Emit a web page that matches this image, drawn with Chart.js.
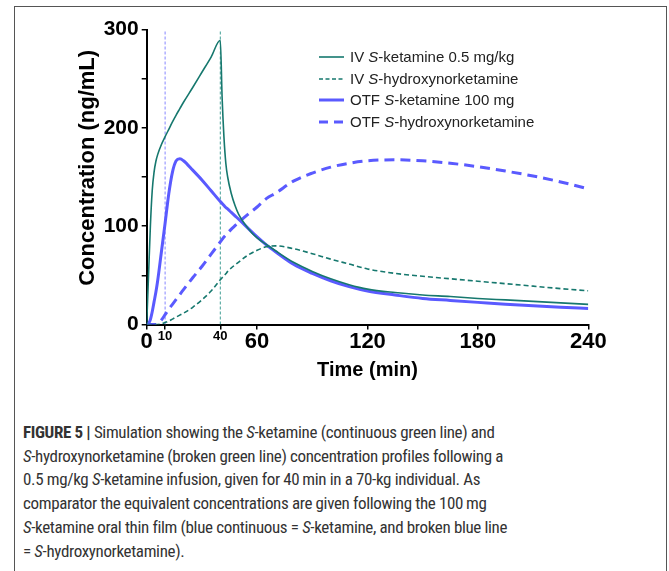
<!DOCTYPE html>
<html>
<head>
<meta charset="utf-8">
<script src="https://cdn.jsdelivr.net/npm/chart.js@4.4.1/dist/chart.umd.min.js"></script>
<style>
  body { margin: 0; background: #fff; }
  #page { position: relative; width: 669px; height: 571px; overflow: hidden; }
  #frame {
    position: absolute; left: 14px; top: 6px; width: 653px; height: 600px;
    border: 1px solid #555; box-sizing: border-box;
  }
  #chart { position: absolute; left: 0; top: 0; }
  #legend {
    position: absolute; left: 319px; top: 46px;
    font-family: "Liberation Sans", Arial, sans-serif; font-size: 15px; color: #222;
  }
  .row { height: 21.6px; line-height: 21.6px; white-space: nowrap; }
  .row svg { vertical-align: middle; margin-right: 6px; position: relative; top: -1px; }
  #caption {
    position: absolute; left: 23px; top: 421px;
    font-family: "Roboto Condensed", "DejaVu Sans Condensed", sans-serif;
    font-size: 17px; letter-spacing: -0.35px; line-height: 23.7px; color: #333; white-space: nowrap;
  }
</style>
</head>
<body>
<div id="page">
  <div id="frame"></div>
  <canvas id="chart" width="669" height="400"></canvas>
  <div id="legend"></div>
  <div id="caption"><b>FIGURE 5 |</b> Simulation showing the <i>S</i>-ketamine (continuous green line) and<br><i>S</i>-hydroxynorketamine (broken green line) concentration profiles following a<br>0.5 mg/kg <i>S</i>-ketamine infusion, given for 40&thinsp;min in a 70-kg individual. As<br>comparator the equivalent concentrations are given following the 100&thinsp;mg<br><i>S</i>-ketamine oral thin film (blue continuous = <i>S</i>-ketamine, and broken blue line<br>= <i>S</i>-hydroxynorketamine).</div>
</div>
<script>
// Time grid (min) and concentrations (ng/mL)
const times = [0, 1, 2, 3, 4, 5, 6, 8, 10, 12, 14, 16, 18, 20, 25, 30, 35, 40, 41, 42, 43, 44, 46, 48, 50, 55, 60, 65, 70, 80, 90, 100, 110, 120, 135, 150, 165, 180, 195, 210, 225, 240];
const ivKetamine = [0, 50, 100, 136, 155, 166, 173, 183, 191, 198.5, 206, 213, 219.5, 226, 241, 256.5, 272, 289, 230, 190, 164, 150, 133, 121, 112, 98, 88, 81.5, 75, 63, 54, 46.5, 40.5, 36, 32.5, 30, 28.5, 26.5, 25, 23.5, 22, 20.5];
const ivHnk = [0, 0, 0, 0, 0, 0, 0, 0.5, 2, 3.5, 5.5, 7.5, 9.5, 11.5, 17.5, 25, 34, 45.5, 47.5, 49.5, 51.5, 54, 57.5, 60.5, 63.5, 70.5, 75.5, 79, 80, 77, 72, 66.5, 61.5, 56.5, 52, 49, 46.5, 44, 41.5, 39, 36.5, 34.3];
const otfKetamine = [0, 1, 5, 13, 23, 33, 45, 74, 103, 133, 155, 166.5, 168.5, 166.5, 157, 147, 136, 125, 123, 121, 119, 117.5, 114, 110.5, 107, 98, 89, 81, 74, 61, 52, 44.5, 38.5, 34, 30, 26.5, 24.5, 22.5, 20.5, 19, 17.5, 16.3];
const otfHnk = [0, 0, 0, 0, 0, 0, 1, 4.5, 10, 15.5, 20.5, 25.5, 30.5, 35.5, 47.5, 59, 71.5, 84, 86.5, 89, 91, 93, 97, 100.5, 104, 112, 119.5, 128, 133.5, 146, 154, 160, 164, 166.5, 167.5, 166.5, 164, 160.5, 156, 151, 145, 138];

// dosing markers: end of OTF application (10 min) and end of infusion (40 min)
const markerTimes = [10, 40];
const xTicks = [0, 10, 40, 60, 120, 180, 240];
const smallTicks = [10, 40];
const yMax = 300;

const teal = '#16786e';
const blue = '#5a5aff';
const FONT = '"Liberation Sans", Arial, sans-serif';

function pts(values) {
    return times.map((t, i) => ({ x: t, y: values[i] }));
}
function vline(t) {
    return [{ x: t, y: 0 }, { x: t, y: yMax }];
}

const series = [
    { label: 'IV S-ketamine 0.5 mg/kg', data: pts(ivKetamine), color: teal, width: 1.6, dash: [] },
    { label: 'IV S-hydroxynorketamine', data: pts(ivHnk), color: teal, width: 1.6, dash: [5, 3] },
    { label: 'OTF S-ketamine 100 mg', data: pts(otfKetamine), color: blue, width: 3, dash: [] },
    { label: 'OTF S-hydroxynorketamine', data: pts(otfHnk), color: blue, width: 3, dash: [10, 6] }
];

const datasets = series.map(s => ({
    label: s.label,
    data: s.data,
    borderColor: s.color,
    borderWidth: s.width,
    borderDash: s.dash,
    pointRadius: 0,
    fill: false,
    cubicInterpolationMode: 'monotone'
}));
datasets.push({ data: vline(markerTimes[0]), borderColor: '#8585ff', borderWidth: 1, borderDash: [3, 2], pointRadius: 0 });
datasets.push({ data: vline(markerTimes[1]), borderColor: '#3f9e94', borderWidth: 1, borderDash: [3, 2], pointRadius: 0 });

new Chart(document.getElementById('chart'), {
    type: 'line',
    data: { datasets: datasets },
    options: {
        responsive: false,
        animation: false,
        devicePixelRatio: 1,
        layout: { padding: { left: 70, right: 80.7, top: 29.5, bottom: 0 } },
        plugins: { legend: { display: false }, tooltip: { enabled: false } },
        scales: {
            x: {
                type: 'linear',
                min: 0,
                max: 240,
                afterBuildTicks: scale => { scale.ticks = xTicks.map(v => ({ value: v })); },
                afterFit: scale => { scale.height = 75.5; },
                ticks: {
                    color: '#000',
                    padding: -1,
                    maxRotation: 0,
                    autoSkip: false,
                    font: ctx => ({
                        family: FONT,
                        weight: 'bold',
                        size: ctx.tick && smallTicks.includes(ctx.tick.value) ? 13 : 22
                    })
                },
                grid: { drawOnChartArea: false, color: '#000', lineWidth: 1.5, tickLength: 5 },
                border: { color: '#000', width: 2 },
                title: {
                    display: true,
                    text: 'Time (min)',
                    color: '#000',
                    font: { family: FONT, weight: 'bold', size: 20 },
                    padding: { top: 0, bottom: 18 }
                }
            },
            y: {
                min: 0,
                max: yMax,
                afterFit: scale => { scale.width = 76.7; },
                ticks: {
                    stepSize: 50,
                    color: '#000',
                    padding: 3,
                    font: { family: FONT, weight: 'bold', size: 21 },
                    callback: v => (v % 100 === 0 ? v : '')
                },
                grid: { drawOnChartArea: false, color: '#000', lineWidth: 1.5, tickLength: 5 },
                border: { color: '#000', width: 2 },
                title: {
                    display: true,
                    text: '   Concentration (ng/mL)',
                    color: '#000',
                    font: { family: FONT, weight: 'bold', size: 22 },
                    padding: { top: 5, bottom: 0 }
                }
            }
        }
    }
});

// legend with italic S
const legend = document.getElementById('legend');
series.forEach(s => {
    const row = document.createElement('div');
    row.className = 'row';
    const dash = s.dash.length ? ` stroke-dasharray="${s.width > 2 ? '9 6' : '4 2.5'}"` : '';
    const text = s.label.replace('S-', '<i>S</i>-');
    row.innerHTML = `<svg width="25" height="6"><line x1="0" y1="3" x2="25" y2="3" stroke="${s.color}" stroke-width="${s.width}"${dash}/></svg>${text}`;
    legend.appendChild(row);
});
</script>
</body>
</html>
